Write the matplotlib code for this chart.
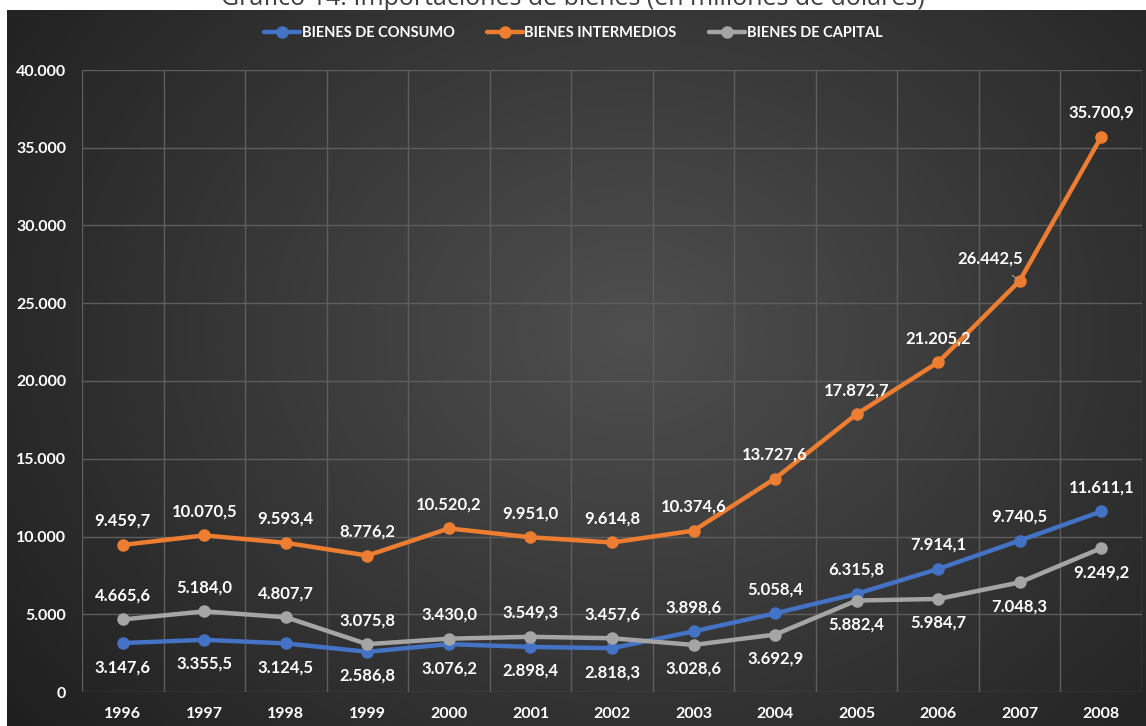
import numpy as np
import matplotlib
matplotlib.use("Agg")
import matplotlib.pyplot as plt

# Importaciones de bienes por tipo, millones de dólares
years = ["1996", "1997", "1998", "1999", "2000", "2001", "2002",
         "2003", "2004", "2005", "2006", "2007", "2008"]
consumo = [3147.6, 3355.5, 3124.5, 2586.8, 3076.2, 2898.4, 2818.3,
           3898.6, 5058.4, 6315.8, 7914.1, 9740.5, 11611.1]
intermedios = [9459.7, 10070.5, 9593.4, 8776.2, 10520.2, 9951.0, 9614.8,
               10374.6, 13727.6, 17872.7, 21205.2, 26442.5, 35700.9]
capital = [4665.6, 5184.0, 4807.7, 3075.8, 3430.0, 3549.3, 3457.6,
           3028.6, 3692.9, 5882.4, 5984.7, 7048.3, 9249.2]

W, H = 1146, 726
plt.rcParams["font.family"] = ["Lato", "DejaVu Sans"]

fig = plt.figure(figsize=(W / 100, H / 100), dpi=100)
fig.patch.set_facecolor("white")

# dark panel with a soft radial gradient
bg = fig.add_axes([7 / W, 0, 1 - 7 / W, 1 - 10 / H])
yy, xx = np.mgrid[0:1:300j, 0:1:500j]
r = np.sqrt(((xx - 0.55) / 0.7) ** 2 + ((yy - 0.45) / 0.9) ** 2)
shade = np.clip(0.31 - 0.19 * r, 0.12, 0.31)
bg.imshow(np.dstack([shade] * 3), aspect="auto", extent=[0, 1, 0, 1],
          interpolation="bicubic")
bg.set_axis_off()

fig.text(0.5, 1 - 5 / H, "Gráfico 14: Importaciones de bienes (en millones de dólares)",
         ha="center", va="baseline", fontsize=18, color="#404040",
         family=["Open Sans", "DejaVu Sans"])

ax = fig.add_axes([82 / W, 1 - 692 / H, (1142 - 82) / W, (692 - 70) / H])
ax.set_facecolor("none")
x = np.arange(len(years))

blue, orange, grey = "#4472C4", "#ED7D31", "#A5A5A5"
series = [
    ("BIENES DE CONSUMO", consumo, blue),
    ("BIENES INTERMEDIOS", intermedios, orange),
    ("BIENES DE CAPITAL", capital, grey),
]
for name, vals, col in series:
    ax.plot(x, vals, color=col, lw=3.2, marker="o", ms=8, label=name,
            solid_capstyle="round", zorder=3)

ax.set_xlim(-0.5, len(years) - 0.5)
ax.set_ylim(0, 40000)
ax.set_yticks(np.arange(0, 40001, 5000))
ax.set_yticklabels([f"{v:,.0f}".replace(",", ".") for v in np.arange(0, 40001, 5000)])
ax.set_xticks(x)
ax.set_xticklabels(years)
ax.tick_params(length=0, colors="white", labelsize=11.5)
ax.tick_params(axis="x", pad=10.5)
ax.tick_params(axis="y", pad=11.5)
for lbl in ax.get_xticklabels() + ax.get_yticklabels():
    lbl.set_fontweight("bold")

# grid: horizontal at each tick, vertical between categories
for v in np.arange(0, 40001, 5000):
    ax.axhline(v, color="#5e5e5e", lw=1, zorder=1)
for b in np.arange(-0.5, len(years), 1.0):
    ax.axvline(b, color="#5e5e5e", lw=1, zorder=1)
for s in ax.spines.values():
    s.set_visible(False)


def fmt(v):
    s = f"{v:,.1f}"
    return s.replace(",", "X").replace(".", ",").replace("X", ".")


# label placement per point: +1 above, -1 below
place_consumo = [-1] * 7 + [1] * 6
place_inter = [1] * 13
place_capital = [1] * 7 + [-1] * 6

for vals, places in [(consumo, place_consumo), (intermedios, place_inter),
                     (capital, place_capital)]:
    for i, (v, p) in enumerate(zip(vals, places)):
        if vals is intermedios and i == 11:
            ax.annotate(fmt(v), (i, v), xytext=(-30, 22), textcoords="offset pixels",
                        ha="center", va="center", color="white", fontsize=12,
                        fontweight="bold",
                        arrowprops=dict(arrowstyle="-", color="#a0a0a0", lw=0.8,
                                        shrinkA=7, shrinkB=2))
            continue
        ax.annotate(fmt(v), (i, v), xytext=(0, 24 * p), textcoords="offset pixels",
                    ha="center", va="center", color="white", fontsize=12,
                    fontweight="bold", zorder=4)

leg = fig.legend(loc="center", bbox_to_anchor=(0.5, 1 - 33 / H), ncol=3,
                 frameon=False, handlelength=2.5, columnspacing=2.2,
                 handletextpad=0.1, prop=dict(weight="bold", size=10.5))
for t in leg.get_texts():
    t.set_color("white")

fig.savefig("out.png", dpi=100)
